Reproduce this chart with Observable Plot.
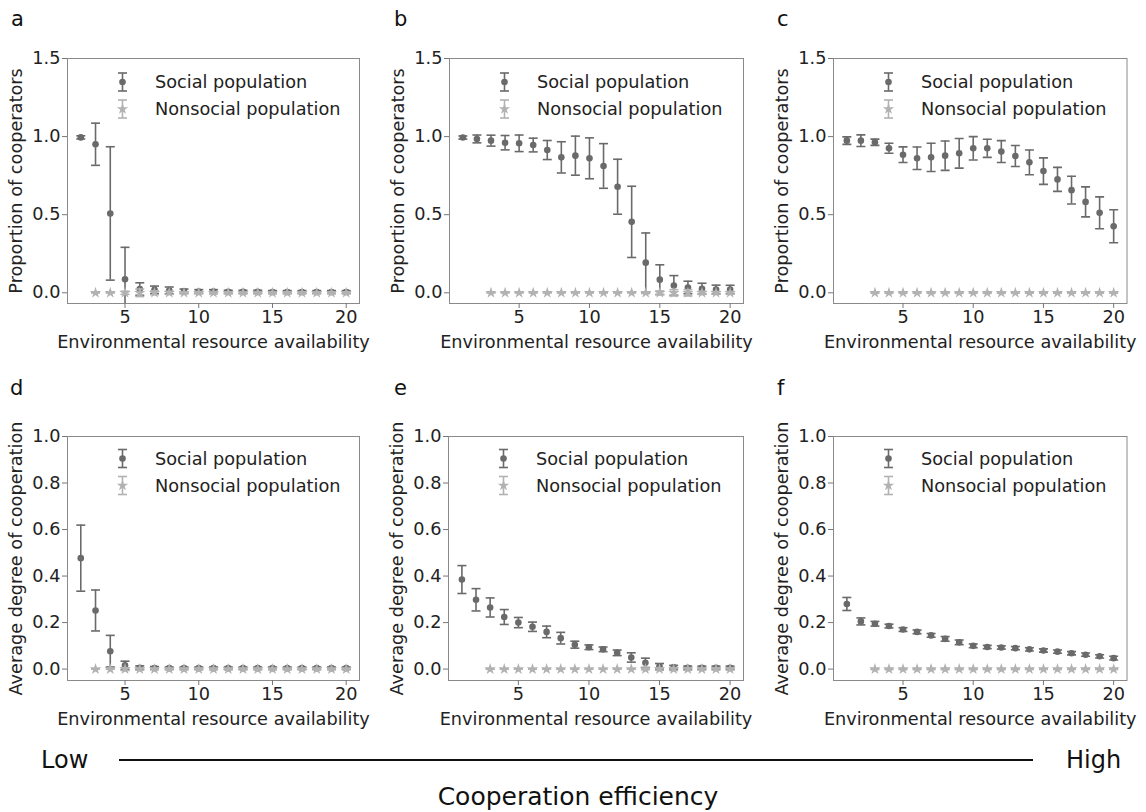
<!DOCTYPE html>
<html><head><meta charset="utf-8">
<script src="https://cdn.jsdelivr.net/npm/d3@7"></script>
<script src="https://cdn.jsdelivr.net/npm/@observablehq/plot@0.6"></script>
<style>
html,body{margin:0;padding:0;background:#fff;font-family:"DejaVu Sans",sans-serif;overflow:hidden;}
#fig{position:relative;width:1146px;height:812px;overflow:hidden;background:#fff;}
.panel{position:absolute;}
#overlay{position:absolute;left:0;top:0;}
</style></head><body><div id="fig"></div>
<script>
// ---------- data ----------
const xTicks = [5, 10, 15, 20];
const xLabel = "Environmental resource availability";
const yLabelTop = "Proportion of cooperators";
const yLabelBottom = "Average degree of cooperation";
const yTicksTop = [0, 0.5, 1.0, 1.5];
const yTicksBottom = [0, 0.2, 0.4, 0.6, 0.8, 1.0];
const seriesNames = ["Social population", "Nonsocial population"];
const panelLetters = ["a", "b", "c", "d", "e", "f"];
const scaleEnds = ["Low", "High"];
const scaleTitle = "Cooperation efficiency";

const x2to20 = [2,3,4,5,6,7,8,9,10,11,12,13,14,15,16,17,18,19,20];
const x1to20 = [1,2,3,4,5,6,7,8,9,10,11,12,13,14,15,16,17,18,19,20];
const x3to20 = [3,4,5,6,7,8,9,10,11,12,13,14,15,16,17,18,19,20];
const zeros18 = [0,0,0,0,0,0,0,0,0,0,0,0,0,0,0,0,0,0];

// panel a
const aSocialMean = [0.995,0.951,0.508,0.086,0.024,0.019,0.015,0.010,0.008,0.008,0.006,0.006,0.006,0.005,0.005,0.005,0.005,0.005,0.005];
const aSocialErr  = [0.010,0.135,0.427,0.205,0.040,0.024,0.022,0.014,0.012,0.012,0.010,0.010,0.010,0.009,0.009,0.009,0.009,0.009,0.009];
const aNonErr     = [0,0,0.010,0.024,0.012,0.010,0.006,0.006,0.006,0.006,0.006,0.006,0.006,0.006,0.006,0.006,0.006,0.006];
// panel b
const bSocialMean = [0.994,0.985,0.974,0.961,0.957,0.946,0.914,0.867,0.878,0.861,0.812,0.679,0.454,0.193,0.084,0.047,0.034,0.026,0.021,0.021];
const bSocialErr  = [0.010,0.025,0.035,0.046,0.053,0.044,0.061,0.100,0.125,0.131,0.143,0.176,0.228,0.190,0.095,0.063,0.040,0.035,0.028,0.027];
const bNonErr     = [0,0,0,0,0,0,0,0,0,0,0,0.005,0.012,0.020,0.020,0.010,0.008,0.008];
// panel c
const cSocialMean = [0.974,0.974,0.964,0.925,0.884,0.861,0.867,0.878,0.893,0.925,0.925,0.904,0.876,0.835,0.779,0.726,0.657,0.582,0.512,0.426];
const cSocialErr  = [0.024,0.037,0.020,0.032,0.050,0.072,0.090,0.094,0.095,0.075,0.058,0.070,0.067,0.079,0.085,0.077,0.089,0.096,0.102,0.106];
const cNonErr     = [0.003,0.003,0.003,0.003,0.003,0.003,0.003,0.003,0.003,0.003,0.003,0.003,0.003,0.003,0.003,0.003,0.003,0.003];
// panel d
const dSocialMean = [0.477,0.252,0.077,0.016,0.006,0.005,0.004,0.004,0.004,0.004,0.004,0.004,0.004,0.004,0.004,0.004,0.004,0.004,0.004];
const dSocialErr  = [0.142,0.088,0.068,0.018,0.008,0.006,0.005,0.005,0.005,0.005,0.005,0.005,0.005,0.005,0.005,0.005,0.005,0.005,0.005];
const dNonErr     = [0,0,0.006,0.004,0.003,0.003,0.003,0.003,0.003,0.003,0.003,0.003,0.003,0.003,0.003,0.003,0.003,0.003];
// panel e
const eSocialMean = [0.385,0.298,0.265,0.224,0.200,0.182,0.160,0.133,0.105,0.094,0.085,0.070,0.050,0.027,0.012,0.008,0.006,0.006,0.006,0.006];
const eSocialErr  = [0.060,0.048,0.041,0.032,0.022,0.020,0.025,0.025,0.015,0.010,0.010,0.012,0.020,0.020,0.012,0.008,0.007,0.007,0.007,0.007];
const eNonErr     = [0,0,0,0,0,0,0,0,0,0,0,0.003,0.005,0.006,0.005,0.004,0.004,0.004];
// panel f
const fSocialMean = [0.280,0.205,0.195,0.185,0.170,0.160,0.145,0.130,0.115,0.100,0.095,0.093,0.090,0.085,0.080,0.075,0.068,0.062,0.055,0.047];
const fSocialErr  = [0.028,0.015,0.010,0.008,0.008,0.008,0.008,0.010,0.010,0.008,0.007,0.007,0.007,0.007,0.007,0.007,0.007,0.007,0.007,0.008];
const fNonErr     = [0.002,0.002,0.002,0.002,0.002,0.002,0.002,0.002,0.002,0.002,0.002,0.002,0.002,0.002,0.002,0.002,0.002,0.002];

// ---------- drawing ----------
const dark = "#6a6a6a", light = "#b2b2b2";
const FS = 17.7;
const capSymbol = { draw(ctx, size) { const w = Math.sqrt(size / Math.PI); ctx.moveTo(-w, 0); ctx.lineTo(w, 0); } };

function rows(xs, means, errs) {
  return xs.map((x, i) => ({x, m: means[i], lo: means[i] - errs[i], hi: means[i] + errs[i]}));
}

function legendMark(dyS, dyN) {
  return (index, scales, values, dims) => {
    const g = d3.create("svg:g").attr("font-family", "DejaVu Sans").attr("font-size", FS).attr("fill", "#222").attr("text-anchor", "start");
    const mx = dims.marginLeft + 55.5, tx = dims.marginLeft + 88;
    const items = [
      {y: dims.marginTop + dyS, c: dark, sym: d3.symbolCircle, r: 3.3, t: seriesNames[0]},
      {y: dims.marginTop + dyN, c: light, sym: d3.symbolStar, r: 3.6, t: seriesNames[1]}
    ];
    for (const it of items) {
      const h = 9;
      g.append("line").attr("x1", mx).attr("x2", mx).attr("y1", it.y - h).attr("y2", it.y + h).attr("stroke", it.c).attr("stroke-width", 1.6);
      for (const yy of [it.y - h, it.y + h]) g.append("line").attr("x1", mx - 4.5).attr("x2", mx + 4.5).attr("y1", yy).attr("y2", yy).attr("stroke", it.c).attr("stroke-width", 1.6);
      g.append("path").attr("d", d3.symbol(it.sym, it.r * it.r * Math.PI)()).attr("transform", `translate(${mx},${it.y})`).attr("fill", it.c);
      g.append("text").attr("x", tx).attr("y", it.y).attr("dy", "0.35em").attr("text-anchor", "start").text(it.t);
    }
    return g.node();
  };
}

function makePanel(p) {
  const S = rows(p.sx, p.sm, p.se), N = rows(p.nx, p.nm, p.ne);
  const ml = 70, mr = 10, mt = 10, mb = 52;
  const chart = Plot.plot({
    width: ml + p.fw + mr, height: mt + p.fh + mb,
    marginLeft: ml, marginRight: mr, marginTop: mt, marginBottom: mb,
    style: {fontFamily: "DejaVu Sans", fontSize: FS + "px", background: "transparent", overflow: "visible"},
    x: {domain: p.xd},
    y: {domain: p.yd},
    marks: [
      Plot.frame({stroke: "#8a8a8a"}),
      Plot.axisX({ticks: xTicks, tickSize: 5, tickPadding: 2, color: "#222", stroke: "#777", fontSize: FS, label: xLabel, labelAnchor: "center", labelOffset: 44, labelArrow: "none"}),
      Plot.axisY({ticks: p.yt, tickFormat: d3.format(".1f"), tickSize: 5, tickPadding: 2, color: "#222", stroke: "#777", fontSize: FS, label: p.yl, labelAnchor: "center", labelOffset: 58, labelArrow: "none"}),
      Plot.ruleX(S, {x: "x", y1: "lo", y2: "hi", stroke: dark, strokeWidth: 1.6, clip: true}),
      Plot.dot(S, {x: "x", y: "lo", symbol: capSymbol, r: 4.5, fill: "none", stroke: dark, strokeWidth: 1.6, clip: true}),
      Plot.dot(S, {x: "x", y: "hi", symbol: capSymbol, r: 4.5, fill: "none", stroke: dark, strokeWidth: 1.6, clip: true}),
      Plot.dot(S, {x: "x", y: "m", r: 3.3, fill: dark, stroke: "none"}),
      Plot.ruleX(N, {x: "x", y1: "lo", y2: "hi", stroke: light, strokeWidth: 1.6, clip: true}),
      Plot.dot(N, {x: "x", y: "lo", symbol: capSymbol, r: 4.5, fill: "none", stroke: light, strokeWidth: 1.6, clip: true}),
      Plot.dot(N, {x: "x", y: "hi", symbol: capSymbol, r: 4.5, fill: "none", stroke: light, strokeWidth: 1.6, clip: true}),
      Plot.dot(N, {x: "x", y: "m", symbol: "star", r: 3.6, fill: light, stroke: "none"}),
      legendMark(p.ly[0], p.ly[1])
    ]
  });
  chart.classList.add("panel");
  chart.style.left = (p.left - ml) + "px";
  chart.style.top = (p.top - mt) + "px";
  return chart;
}

const fig = document.getElementById("fig");
const topDomain = [-0.0686, 1.5], botDomain = [-0.049, 1.0];
const panels = [
  {left: 67, top: 58, fw: 292, fh: 245, xd: [1.1, 20.9], yd: topDomain, yt: yTicksTop, yl: yLabelTop, ly: [24, 51],
   sx: x2to20, sm: aSocialMean, se: aSocialErr, nx: x3to20, nm: zeros18, ne: aNonErr},
  {left: 449, top: 58, fw: 294, fh: 245, xd: [0.05, 20.95], yd: topDomain, yt: yTicksTop, yl: yLabelTop, ly: [24, 51],
   sx: x1to20, sm: bSocialMean, se: bSocialErr, nx: x3to20, nm: zeros18, ne: bNonErr},
  {left: 833, top: 58, fw: 293.5, fh: 245, xd: [0.05, 20.95], yd: topDomain, yt: yTicksTop, yl: yLabelTop, ly: [24, 51],
   sx: x1to20, sm: cSocialMean, se: cSocialErr, nx: x3to20, nm: zeros18, ne: cNonErr},
  {left: 67, top: 436, fw: 292, fh: 244, xd: [1.1, 20.9], yd: botDomain, yt: yTicksBottom, yl: yLabelBottom, ly: [22.5, 49.5],
   sx: x2to20, sm: dSocialMean, se: dSocialErr, nx: x3to20, nm: zeros18, ne: dNonErr},
  {left: 448, top: 436, fw: 295, fh: 244, xd: [0.05, 20.95], yd: botDomain, yt: yTicksBottom, yl: yLabelBottom, ly: [22.5, 49.5],
   sx: x1to20, sm: eSocialMean, se: eSocialErr, nx: x3to20, nm: zeros18, ne: eNonErr},
  {left: 833, top: 436, fw: 293.5, fh: 244, xd: [0.05, 20.95], yd: botDomain, yt: yTicksBottom, yl: yLabelBottom, ly: [22.5, 49.5],
   sx: x1to20, sm: fSocialMean, se: fSocialErr, nx: x3to20, nm: zeros18, ne: fNonErr}
];
panels.forEach(p => fig.appendChild(makePanel(p)));

// overlay: panel letters and the bottom "Cooperation efficiency" scale
const ov = d3.select(fig).append("svg").attr("id", "overlay").attr("width", 1146).attr("height", 812)
  .attr("font-family", "DejaVu Sans").attr("fill", "#111");
const letterPos = [[11, 26], [394, 26], [777, 26], [10, 395], [394, 395], [777, 395]];
panelLetters.forEach((t, i) => ov.append("text").attr("x", letterPos[i][0]).attr("y", letterPos[i][1]).attr("font-size", 21).text(t));
ov.append("text").attr("x", 41).attr("y", 768).attr("font-size", 24).text(scaleEnds[0]);
ov.append("text").attr("x", 1066).attr("y", 768).attr("font-size", 24).text(scaleEnds[1]);
ov.append("line").attr("x1", 119).attr("x2", 1033).attr("y1", 760).attr("y2", 760).attr("stroke", "#111").attr("stroke-width", 2);
ov.append("text").attr("x", 578).attr("y", 805).attr("font-size", 25).attr("text-anchor", "middle").text(scaleTitle);
</script></body></html>
